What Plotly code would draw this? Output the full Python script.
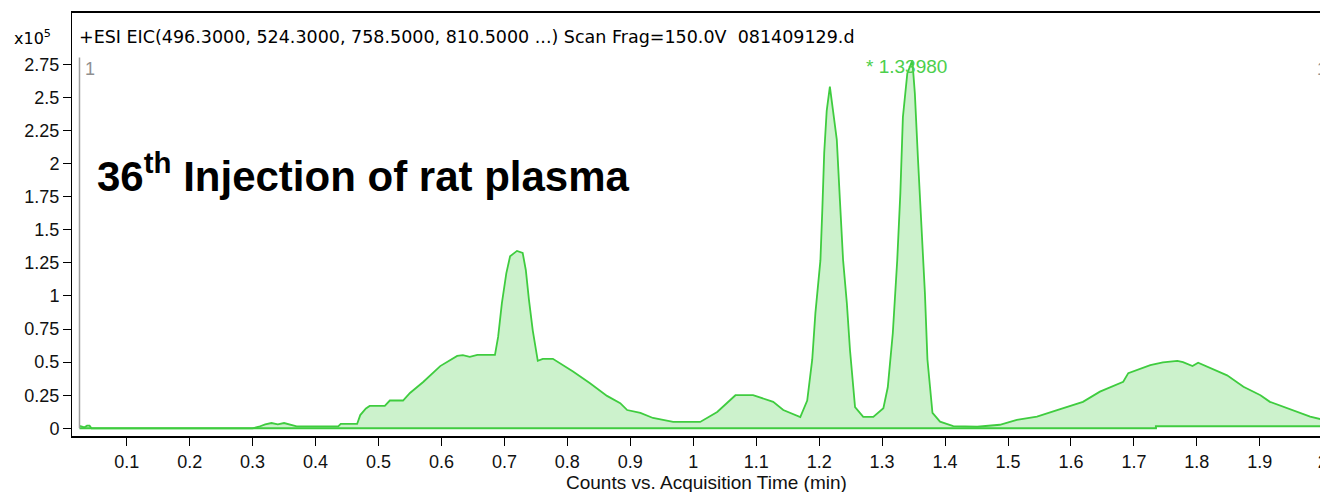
import plotly.graph_objects as go

# ---------------- data ----------------
time_min = [0.025, 0.028, 0.033, 0.037, 0.041, 0.044, 0.30, 0.31, 0.32, 0.33, 0.34, 0.35, 0.36, 0.37,
            0.436, 0.44, 0.466, 0.471, 0.48, 0.486, 0.510, 0.518, 0.539, 0.550, 0.571, 0.598, 0.625,
            0.634, 0.645, 0.657, 0.685, 0.690, 0.696, 0.703, 0.709, 0.720, 0.729, 0.734, 0.739, 0.745,
            0.753, 0.761, 0.777, 0.793, 0.809, 0.836, 0.863, 0.884, 0.895, 0.916, 0.936, 0.968, 1.011,
            1.038, 1.067, 1.095, 1.127, 1.143, 1.170, 1.181, 1.189, 1.194, 1.202, 1.205, 1.208, 1.212,
            1.217, 1.222, 1.228, 1.233, 1.238, 1.244, 1.249, 1.257, 1.270, 1.286, 1.302, 1.309, 1.317,
            1.324, 1.329, 1.333, 1.340, 1.348, 1.352, 1.357, 1.363, 1.368, 1.372, 1.380, 1.392, 1.413,
            1.451, 1.487, 1.514, 1.546, 1.578, 1.610, 1.619, 1.646, 1.683, 1.691, 1.726, 1.746, 1.769,
            1.778, 1.793, 1.802, 1.821, 1.848, 1.874, 1.901, 1.916, 1.948, 1.980, 2.008]
counts_e5 = [0.018, 0.012, 0.008, 0.020, 0.020, 0.0, 0.0, 0.012, 0.030, 0.040, 0.030, 0.040, 0.030, 0.015,
             0.015, 0.033, 0.033, 0.10, 0.15, 0.169, 0.169, 0.21, 0.21, 0.267, 0.35, 0.47, 0.547,
             0.553, 0.54, 0.555, 0.555, 0.69, 0.945, 1.17, 1.30, 1.34, 1.325, 1.196, 0.97, 0.74,
             0.51, 0.525, 0.525, 0.48, 0.43, 0.34, 0.245, 0.19, 0.138, 0.116, 0.078, 0.048, 0.048,
             0.124, 0.25, 0.25, 0.20, 0.138, 0.085, 0.21, 0.52, 0.87, 1.27, 1.65, 2.08, 2.40,
             2.58, 2.40, 2.18, 1.72, 1.27, 0.945, 0.59, 0.16, 0.086, 0.086, 0.152, 0.31, 0.72,
             1.27, 1.78, 2.35, 2.68, 2.78, 2.53, 2.03, 1.52, 1.02, 0.52, 0.116, 0.05, 0.017,
             0.012, 0.027, 0.063, 0.088, 0.138, 0.183, 0.20, 0.277, 0.352, 0.417, 0.478, 0.498, 0.51,
             0.50, 0.47, 0.495, 0.455, 0.40, 0.314, 0.25, 0.20, 0.143, 0.088, 0.057]

baseline_time = [0.025, 1.735, 1.735, 2.008]
baseline_counts = [0.0, 0.0, 0.015, 0.015]

segment_start = 0.025
segment_marker_top = 2.80
peak_label = "1.33980"

x_tickvals = [0.1, 0.2, 0.3, 0.4, 0.5, 0.6, 0.7, 0.8, 0.9, 1.0, 1.1, 1.2, 1.3, 1.4, 1.5, 1.6, 1.7, 1.8, 1.9, 2.0]
x_ticktext = ["0.1", "0.2", "0.3", "0.4", "0.5", "0.6", "0.7", "0.8", "0.9", "1", "1.1", "1.2", "1.3",
              "1.4", "1.5", "1.6", "1.7", "1.8", "1.9", "2"]
y_tickvals = [0, 0.25, 0.5, 0.75, 1.0, 1.25, 1.5, 1.75, 2.0, 2.25, 2.5, 2.75]
y_ticktext = ["0", "0.25", "0.5", "0.75", "1", "1.25", "1.5", "1.75", "2", "2.25", "2.5", "2.75"]

title_text = "+ESI EIC(496.3000, 524.3000, 758.5000, 810.5000 ...) Scan Frag=150.0V  081409129.d"
x_title = "Counts vs. Acquisition Time (min)"
overlay_text = "36<sup>th</sup> Injection of rat plasma"

# ---------------- styles ----------------
GREEN = "#3fcc3f"
FILL = "#ccf2cc"
SANS = "Liberation Sans, Arial, sans-serif"

fig = go.Figure()
fig.add_trace(go.Scatter(x=baseline_time, y=baseline_counts, mode="lines",
                         line=dict(color=GREEN, width=2), hoverinfo="skip", showlegend=False))
fig.add_trace(go.Scatter(x=time_min, y=counts_e5, mode="lines", fill="tonexty", fillcolor=FILL,
                         line=dict(color=GREEN, width=1.8), showlegend=False))
fig.add_trace(go.Scatter(x=[segment_start, segment_start], y=[0, segment_marker_top], mode="lines",
                         line=dict(color="#a0a0a0", width=1.5), hoverinfo="skip", showlegend=False))

apex_i = max(range(len(counts_e5)), key=lambda i: counts_e5[i])

# the page body has an 8px default margin, so the figure is 8px smaller than the window
fig.update_layout(
    width=1320, height=484,
    margin=dict(l=64, r=0, t=5, b=56),
    paper_bgcolor="white", plot_bgcolor="white",
    showlegend=False,
    xaxis=dict(range=[0.0131, 2.0083], tickvals=x_tickvals, ticktext=x_ticktext, automargin=False,
               showgrid=False, zeroline=False, showline=True, linecolor="black", linewidth=2,
               mirror=True, ticks="outside", ticklen=8, tickwidth=1, tickcolor="black",
               tickfont=dict(family=SANS, size=18, color="#111")),
    yaxis=dict(range=[-0.058, 3.137], tickvals=y_tickvals, ticktext=y_ticktext, automargin=False,
               showgrid=False, zeroline=False, showline=True, linecolor="black", linewidth=1,
               ticks="outside", ticklen=8, tickwidth=1, tickcolor="black",
               tickfont=dict(family=SANS, size=18, color="#111")),
    annotations=[
        dict(text=title_text, xref="paper", yref="paper", x=0.004, y=0.943, xanchor="left",
             yanchor="middle", showarrow=False,
             font=dict(family="DejaVu Sans, Liberation Sans, sans-serif", size=17.5, color="black")),
        dict(text="x10<sup>5</sup>", xref="paper", yref="paper", x=-0.048, y=0.943, xanchor="left",
             yanchor="middle", showarrow=False,
             font=dict(family="DejaVu Sans, Liberation Sans, sans-serif", size=16, color="black")),
        dict(text="1", xref="paper", yref="paper", x=0.0085, y=0.868, xanchor="left",
             yanchor="middle", showarrow=False,
             font=dict(family=SANS, size=18, color="#909090")),
        dict(text="1", xref="paper", yref="paper", x=0.990, y=0.868, xanchor="left",
             yanchor="middle", showarrow=False,
             font=dict(family=SANS, size=18, color="#909090")),
        dict(text="<b>" + overlay_text + "</b>", xref="paper", yref="paper", x=0.0185, y=0.622,
             xanchor="left", yanchor="middle", showarrow=False,
             font=dict(family=SANS, size=42, color="black")),
        dict(text="* " + peak_label, x=time_min[apex_i], y=counts_e5[apex_i], xanchor="center",
             yanchor="middle", xshift=-6, yshift=-6, showarrow=False,
             font=dict(family=SANS, size=19, color="#4ccf4c")),
        dict(text=x_title, xref="paper", yref="paper", x=0.505, y=-0.109, xanchor="center",
             yanchor="middle", showarrow=False,
             font=dict(family=SANS, size=19, color="#111")),
    ],
)

fig.write_html("out.html")
